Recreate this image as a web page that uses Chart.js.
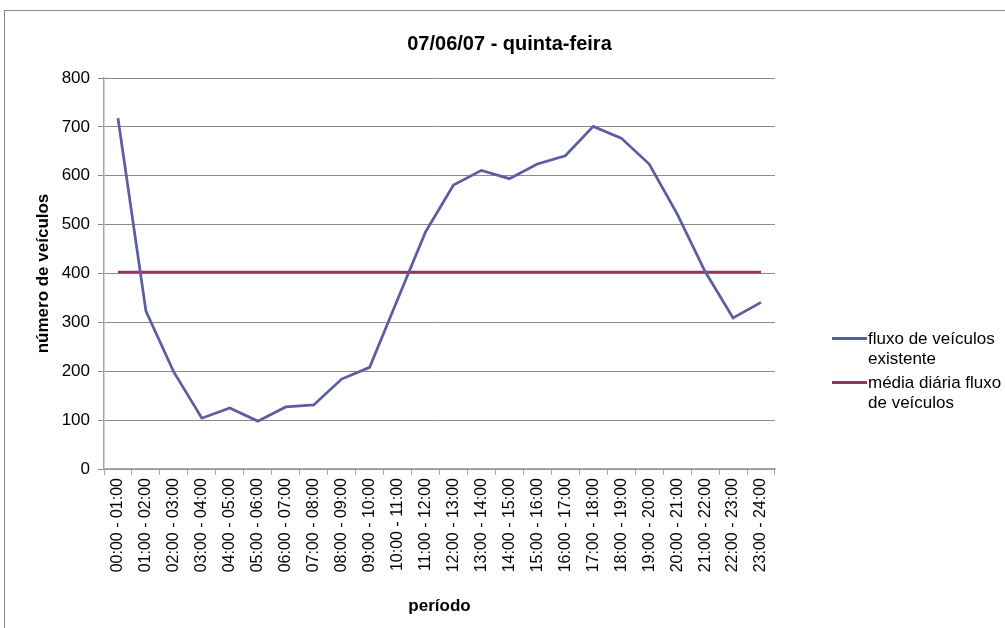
<!DOCTYPE html>
<html lang="pt">
<head>
<meta charset="utf-8">
<title>07/06/07 - quinta-feira</title>
<script src="https://cdn.jsdelivr.net/npm/chart.js@4.4.0/dist/chart.umd.min.js"></script>
<style>
  html, body { margin: 0; padding: 0; background: #fff; }
  #quadro {
    position: relative; width: 1005px; height: 628px; overflow: hidden;
    font-family: 'Liberation Sans', Arial, sans-serif;
  }
  #grafico { position: absolute; left: 0; top: 0; }
  /* moldura cinza do gráfico (só topo e esquerda aparecem) */
  #moldura {
    position: absolute; left: 4px; top: 10px; width: 1030px; height: 650px;
    border: 1px solid #868686; pointer-events: none;
  }
  #legenda { position: absolute; left: 832px; top: 329px; font-size: 17px; line-height: 20px; color: #000; }
  .item { position: relative; padding-left: 36px; margin-bottom: 4px; }
  .amostra { position: absolute; left: 0; top: 8px; width: 35px; height: 3px; }
</style>
</head>
<body>
<div id="quadro">
  <canvas id="grafico" width="1005" height="628"></canvas>
  <div id="moldura"></div>
  <div id="legenda"></div>
</div>
<script>
// ── Dados ─────────────────────────────────────
const TITULO = '07/06/07 - quinta-feira'
const periodos = [
  '00:00 - 01:00', '01:00 - 02:00', '02:00 - 03:00', '03:00 - 04:00',
  '04:00 - 05:00', '05:00 - 06:00', '06:00 - 07:00', '07:00 - 08:00',
  '08:00 - 09:00', '09:00 - 10:00', '10:00 - 11:00', '11:00 - 12:00',
  '12:00 - 13:00', '13:00 - 14:00', '14:00 - 15:00', '15:00 - 16:00',
  '16:00 - 17:00', '17:00 - 18:00', '18:00 - 19:00', '19:00 - 20:00',
  '20:00 - 21:00', '21:00 - 22:00', '22:00 - 23:00', '23:00 - 24:00'
]
const fluxoExistente = [718, 323, 198, 104, 125, 98, 127, 131, 184, 208, 347, 485,
                        581, 611, 594, 624, 641, 701, 677, 624, 522, 404, 309, 341]
const mediaDiaria    = [403, 403, 403, 403, 403, 403, 403, 403, 403, 403, 403, 403,
                        403, 403, 403, 403, 403, 403, 403, 403, 403, 403, 403, 403]
const ticksY = [0, 100, 200, 300, 400, 500, 600, 700, 800]

const series = [
  { label: ['fluxo de veículos', 'existente'], data: fluxoExistente, cor: '#5c5ea2' },
  { label: ['média diária fluxo', 'de veículos'], data: mediaDiaria, cor: '#993366' }
]

// ── Tema ──────────────────────────────────────
Chart.defaults.font.family = "'Liberation Sans', Arial, sans-serif"
Chart.defaults.color = '#000'

const corGrade = '#8a8a8a'
const corEixo  = '#a6a6a6'

const grafico = new Chart(document.getElementById('grafico'), {
  type: 'line',
  data: {
    labels: periodos,
    datasets: series.map(s => ({
      label: s.label.join(' '),
      data: s.data,
      borderColor: s.cor,
      backgroundColor: s.cor,
      borderWidth: 2.75,
      pointRadius: 0,
      tension: 0,
      fill: false
    }))
  },
  options: {
    responsive: false,
    animation: false,
    layout: { padding: { left: 14, right: 0, top: 0, bottom: 0 } },
    plugins: {
      legend: { display: false },
      tooltip: { enabled: false },
      title: {
        display: true,
        text: TITULO,
        font: { size: 20, weight: 'bold' },
        padding: { top: 32, bottom: 22 }
      }
    },
    scales: {
      x: {
        offset: true,
        grid: { display: true, offset: true, drawOnChartArea: false, drawTicks: true, tickLength: 6, color: corEixo },
        border: { display: true, color: corEixo, width: 1.5 },
        ticks: { autoSkip: false, maxRotation: 90, minRotation: 90, padding: 3, font: { size: 16 } },
        title: { display: true, text: 'período', font: { size: 17, weight: 'bold' }, padding: { top: 0, bottom: 11 } },
        afterFit: s => { s.height = 159 }
      },
      y: {
        min: 0,
        max: 800,
        afterBuildTicks: s => { s.ticks = ticksY.map(v => ({ value: v })) },
        grid: { color: corGrade, lineWidth: 1, tickLength: 6 },
        border: { display: true, color: corEixo, width: 1.5 },
        ticks: { padding: 8, font: { size: 17 } },
        title: { display: true, text: 'número de veículos', font: { size: 17, weight: 'bold' }, padding: { top: 19, bottom: 0 } },
        afterFit: s => { s.width = 90 }
      },
      // eixo vazio só para reservar espaço da legenda à direita
      reserva: {
        type: 'linear',
        position: 'right',
        display: true,
        grid: { display: false, drawTicks: false },
        border: { display: false },
        ticks: { display: false },
        afterFit: s => { s.width = 230 }
      }
    }
  }
})

// ── Legenda em HTML (texto quebrado em duas linhas) ──
const legenda = document.getElementById('legenda')
series.forEach(s => {
  const item = document.createElement('div')
  item.className = 'item'
  const amostra = document.createElement('span')
  amostra.className = 'amostra'
  amostra.style.background = s.cor
  item.appendChild(amostra)
  s.label.forEach(linha => {
    const d = document.createElement('div')
    d.textContent = linha
    item.appendChild(d)
  })
  legenda.appendChild(item)
})
</script>
</body>
</html>
